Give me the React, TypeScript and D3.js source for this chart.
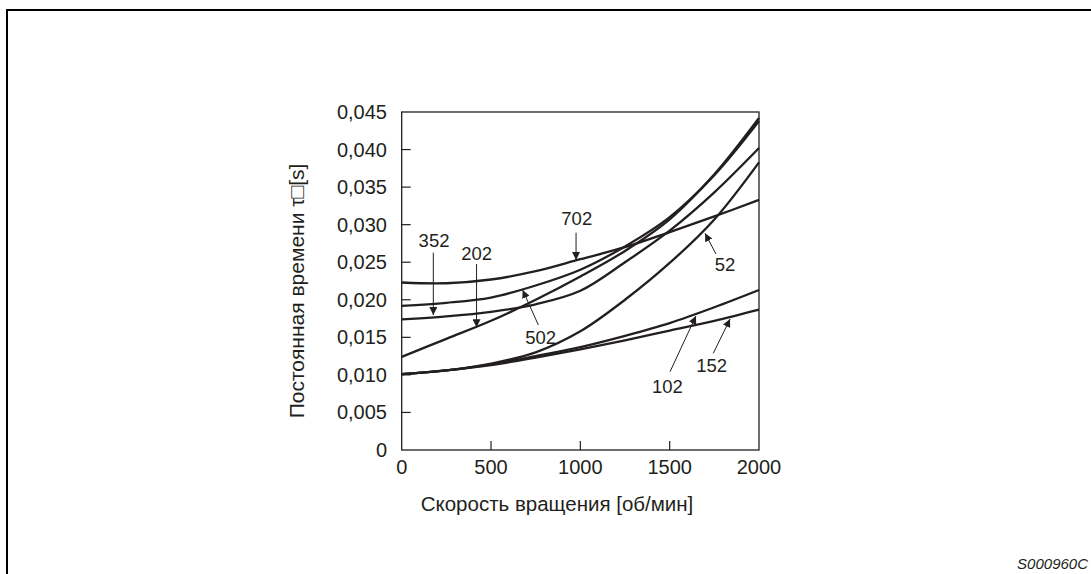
import React from "react";
import * as d3 from "d3";

const speeds = [0, 250, 500, 750, 1000, 1250, 1500, 1750, 2000];

const s702 = [0.0223, 0.0222, 0.0227, 0.0238, 0.0254, 0.027, 0.029, 0.0311, 0.0333];
const s502 = [0.0192, 0.0196, 0.0203, 0.0219, 0.024, 0.0271, 0.031, 0.0366, 0.0438];
const s352 = [0.0174, 0.0178, 0.0184, 0.0194, 0.0212, 0.025, 0.0292, 0.0343, 0.0402];
const s202 = [0.0124, 0.0148, 0.0172, 0.02, 0.0231, 0.0265, 0.0307, 0.0367, 0.0442];
const s52 = [0.0101, 0.0106, 0.0115, 0.013, 0.0158, 0.02, 0.0249, 0.0307, 0.0383];
const s102 = [0.0101, 0.0106, 0.0114, 0.0125, 0.0137, 0.0152, 0.0169, 0.019, 0.0213];
const s152 = [0.0101, 0.0106, 0.0113, 0.0123, 0.0134, 0.0146, 0.0159, 0.0172, 0.0187];

const seriesList = [s702, s502, s352, s202, s52, s102, s152];

const xTicks = [0, 500, 1000, 1500, 2000];
const yTicks = [0, 0.005, 0.01, 0.015, 0.02, 0.025, 0.03, 0.035, 0.04, 0.045];

// annotation: label, text position, arrow tail, arrow tip (data units)
const annLabels = ["702", "352", "202", "502", "52", "102", "152"];
const annText = [[980, 0.03085], [181, 0.02787], [420, 0.0261], [778, 0.015], [1810, 0.02476], [1487, 0.00843], [1735, 0.01122]];
const annTail = [[976, 0.02893], [177, 0.02627], [419, 0.02476], [765, 0.01664], [1759, 0.0261], [1502, 0.01042], [1744, 0.01287]];
const annTip = [[976, 0.0253], [177, 0.01797], [419, 0.01634], [677, 0.0213], [1698, 0.02885], [1647, 0.01784], [1838, 0.01744]];

const xTitle = "Скорость вращения [об/мин]";
const yTitle = "Постоянная времени τ\u25a1[s]";
const code = "S000960C";

const W = 1091;
const H = 574;
const ink = "#231f20";
const font = "'Liberation Sans', Arial, Helvetica, sans-serif";

export default function App() {
  const x = d3.scaleLinear().domain([0, 2000]).range([401.7, 759]);
  const y = d3.scaleLinear().domain([0, 0.045]).range([450, 112]);
  const line = d3
    .line<number>()
    .x((_, i) => x(speeds[i]))
    .y((d) => y(d))
    .curve(d3.curveCatmullRom.alpha(0.5));
  const fmt = (v: number) => (v === 0 ? "0" : d3.format(".3f")(v).replace(".", ","));

  return (
    <svg width={W} height={H} style={{ position: "absolute", left: 0, top: 0, background: "#fff" }}>
      <defs>
        <marker id="ah" viewBox="0 0 10 10" refX="10" refY="5" markerWidth="8" markerHeight="8" markerUnits="userSpaceOnUse" orient="auto">
          <path d="M0,0 L10,5 L0,10 z" fill={ink} />
        </marker>
      </defs>
      {/* page frame */}
      <path d={`M7,${H} L7,10 L${W},10`} fill="none" stroke="#000" strokeWidth={2} />
      {/* plot box */}
      <rect x={x(0)} y={y(0.045)} width={x(2000) - x(0)} height={y(0) - y(0.045)} fill="none" stroke={ink} strokeWidth={1.3} />
      {/* ticks */}
      {yTicks.slice(1, -1).map((t) => (
        <line key={"yt" + t} x1={x(0)} x2={x(0) + 9} y1={y(t)} y2={y(t)} stroke={ink} strokeWidth={1.2} />
      ))}
      {xTicks.slice(1, -1).map((v) => (
        <line key={"xt" + v} x1={x(v)} x2={x(v)} y1={y(0)} y2={y(0) - 9} stroke={ink} strokeWidth={1.2} />
      ))}
      {yTicks.map((t) => (
        <text key={"yl" + t} x={387} y={y(t)} textAnchor="end" dominantBaseline="central" fontFamily={font} fontSize={20} fill={ink}>
          {fmt(t)}
        </text>
      ))}
      {xTicks.map((v) => (
        <text key={"xl" + v} x={x(v)} y={467} textAnchor="middle" dominantBaseline="central" fontFamily={font} fontSize={20} fill={ink}>
          {v}
        </text>
      ))}
      <text x={557} y={503} textAnchor="middle" dominantBaseline="central" fontFamily={font} fontSize={20.5} fill={ink}>
        {xTitle}
      </text>
      <text transform={`translate(296,291) rotate(-90)`} textAnchor="middle" dominantBaseline="central" fontFamily={font} fontSize={21} fill={ink}>
        {yTitle}
      </text>
      {/* curves */}
      {seriesList.map((s, i) => (
        <path key={"c" + i} d={line(s) || ""} fill="none" stroke={ink} strokeWidth={2.3} />
      ))}
      {/* annotations */}
      {annLabels.map((lab, i) => (
        <g key={"a" + lab}>
          <line x1={x(annTail[i][0])} y1={y(annTail[i][1])} x2={x(annTip[i][0])} y2={y(annTip[i][1])} stroke={ink} strokeWidth={1} markerEnd="url(#ah)" />
          <text x={x(annText[i][0])} y={y(annText[i][1])} textAnchor="middle" dominantBaseline="central" fontFamily={font} fontSize={18.5} fill={ink}>
            {lab}
          </text>
        </g>
      ))}
      <text x={1088} y={563} textAnchor="end" dominantBaseline="central" fontFamily={font} fontStyle="italic" fontSize={15} fill={ink}>
        {code}
      </text>
    </svg>
  );
}
